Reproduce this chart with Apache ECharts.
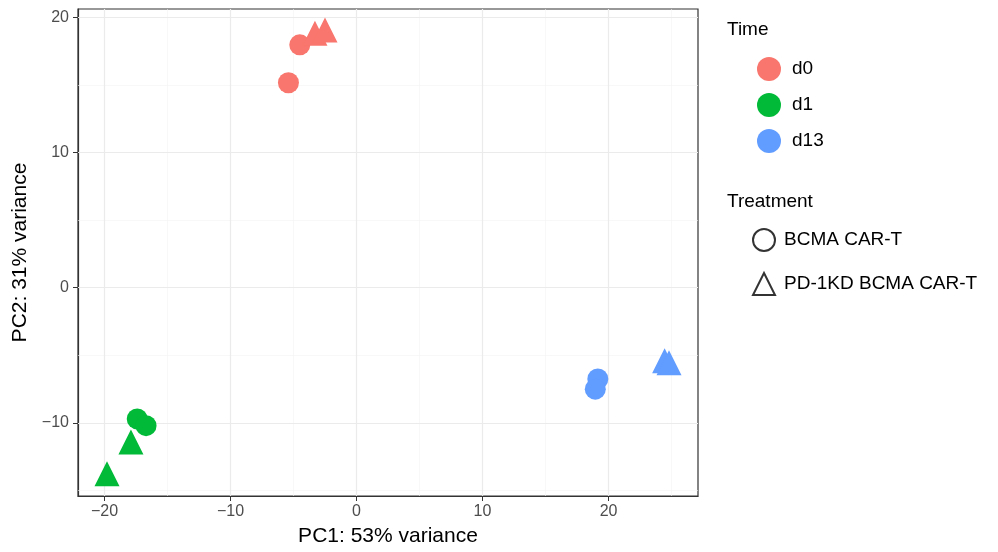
<!DOCTYPE html>
<html>
<head>
<meta charset="utf-8">
<script src="https://cdn.jsdelivr.net/npm/echarts@6/dist/echarts.min.js"></script>
<style>
  html, body { margin: 0; padding: 0; background: #fff; }
  #main { width: 998px; height: 552px; }
</style>
</head>
<body>
<div id="main"></div>
<script>
// 数据: PC1 / PC2 坐标
const times = ["d0", "d1", "d13"];
const timeColors = ["#F8766D", "#00BA38", "#619CFF"];
const treatments = ["BCMA CAR-T", "PD-1KD BCMA CAR-T"];

// 每组 [PC1, PC2]
const d0Bcma = [[-5.4, 15.15], [-4.5, 17.95]];
const d0Pd1 = [[-3.3, 18.8], [-2.5, 19.05]];
const d1Bcma = [[-17.4, -9.7], [-16.7, -10.2]];
const d1Pd1 = [[-17.9, -11.4], [-19.8, -13.75]];
const d13Bcma = [[19.15, -6.75], [18.95, -7.5]];
const d13Pd1 = [[24.45, -5.4], [24.8, -5.55]];

const xTicks = [-20, -10, 0, 10, 20];
const yTicks = [-10, 0, 10, 20];
const xMinor = [-15, -5, 5, 15, 25];
const yMinor = [-15, -5, 5, 15];

let myChart = echarts.init(document.getElementById("main"));

const font = "Liberation Sans, Arial, sans-serif";

function pts(data, name, symbol, color, size) {
  return {
    name: name,
    type: "scatter",
    symbol: symbol,
    symbolSize: size,
    data: data,
    itemStyle: { color: color, opacity: 1 },
    z: 5
  };
}

// 负号用 unicode 减号
function fmt(v) {
  return v < 0 ? "\u2212" + Math.abs(v) : String(v);
}

// 网格线 (用 markLine 画)
let gridLines = {
  name: "grid",
  type: "scatter",
  data: [],
  silent: true,
  z: 1,
  markLine: {
    silent: true,
    symbol: "none",
    label: { show: false },
    animation: false,
    data: []
      .concat(xMinor.map(v => ({ xAxis: v, lineStyle: { color: "#F3F3F3", width: 0.6, type: "solid" } })))
      .concat(yMinor.map(v => ({ yAxis: v, lineStyle: { color: "#F3F3F3", width: 0.6, type: "solid" } })))
      .concat(xTicks.map(v => ({ xAxis: v, lineStyle: { color: "#EBEBEB", width: 1.2, type: "solid" } })))
      .concat(yTicks.map(v => ({ yAxis: v, lineStyle: { color: "#EBEBEB", width: 1.2, type: "solid" } })))
  }
};

let option = {
  animation: false,
  backgroundColor: "#ffffff",
  textStyle: { fontFamily: font },
  title: [
    { text: "Time", left: 722, top: 15, textStyle: { fontFamily: font, fontSize: 19, fontWeight: "normal", color: "#000" } },
    { text: "Treatment", left: 722, top: 187, textStyle: { fontFamily: font, fontSize: 19, fontWeight: "normal", color: "#000" } }
  ],
  grid: {
    left: 78, right: 300, top: 9, bottom: 55,
    show: true, borderColor: "#333333", borderWidth: 1.2, backgroundColor: "#fff"
  },
  legend: [
    {
      orient: "vertical",
      left: 752, top: 52,
      itemWidth: 24, itemHeight: 24, itemGap: 12,
      icon: "circle",
      data: times,
      textStyle: { fontFamily: font, fontSize: 19, color: "#000", padding: [0, 0, 0, 6] }
    },
    {
      orient: "vertical",
      left: 747, top: 223,
      itemWidth: 22, itemHeight: 22, itemGap: 20,
      data: [
        { name: treatments[0], icon: "circle" },
        { name: treatments[1], icon: "triangle" }
      ],
      textStyle: { fontFamily: font, fontSize: 19, color: "#000", padding: [0, 0, 0, 4] }
    }
  ],
  xAxis: {
    type: "value",
    min: -22.1, max: 27.1,
    name: "PC1: 53% variance",
    nameLocation: "middle",
    nameGap: 30,
    nameTextStyle: { fontFamily: font, fontSize: 21, color: "#000" },
    axisLine: { show: true, onZero: false, lineStyle: { color: "#333333", width: 1.2 } },
    axisTick: { show: true, length: 5, customValues: xTicks, lineStyle: { color: "#333333" } },
    axisLabel: { customValues: xTicks, fontFamily: font, fontSize: 16, color: "#4D4D4D", margin: 8, formatter: fmt },
    splitLine: { show: false }
  },
  yAxis: {
    type: "value",
    min: -15.4, max: 20.6,
    name: "PC2: 31% variance",
    nameLocation: "middle",
    nameRotate: 90,
    nameGap: 42,
    nameTextStyle: { fontFamily: font, fontSize: 21, color: "#000" },
    axisLine: { show: true, onZero: false, lineStyle: { color: "#333333", width: 1.2 } },
    axisTick: { show: true, length: 5, customValues: yTicks, lineStyle: { color: "#333333" } },
    axisLabel: { customValues: yTicks, fontFamily: font, fontSize: 16, color: "#4D4D4D", margin: 9, formatter: fmt },
    splitLine: { show: false }
  },
  series: [
    gridLines,
    pts(d0Bcma, "d0", "circle", timeColors[0], 21),
    pts(d1Bcma, "d1", "circle", timeColors[1], 21),
    pts(d13Bcma, "d13", "circle", timeColors[2], 21),
    pts(d0Pd1, "d0", "triangle", timeColors[0], 25),
    pts(d1Pd1, "d1", "triangle", timeColors[1], 25),
    pts(d13Pd1, "d13", "triangle", timeColors[2], 25),
    // 图例用的空系列
    { name: treatments[0], type: "scatter", symbol: "circle", data: [],
      itemStyle: { color: "rgba(0,0,0,0)", borderColor: "#000", borderWidth: 2 } },
    { name: treatments[1], type: "scatter", symbol: "triangle", data: [],
      itemStyle: { color: "rgba(0,0,0,0)", borderColor: "#000", borderWidth: 2 } }
  ]
};

myChart.setOption(option);
</script>
</body>
</html>
